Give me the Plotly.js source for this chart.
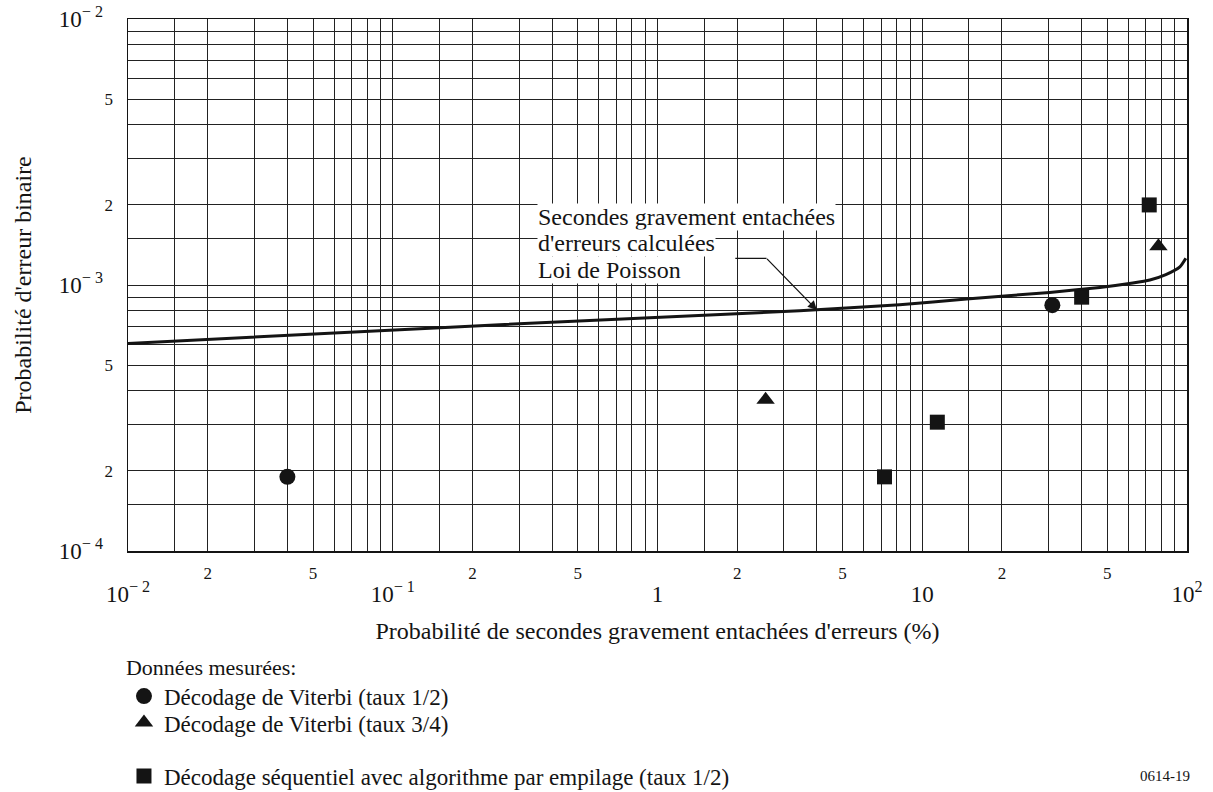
<!DOCTYPE html>
<html>
<head>
<meta charset="utf-8">
<script src="https://cdn.plot.ly/plotly-3.0.1.min.js"></script>
<style>
  html, body { margin: 0; padding: 0; background: #fff; }
  #chart { width: 1213px; height: 792px; }
</style>
</head>
<body>
<div id="chart"></div>
<script>
// Calculated curve: severely errored seconds vs. bit error probability (Poisson law)
const poissonX = [0.01, 0.1063, 0.2535, 3.44, 8.22, 14.7, 30.3, 46.9, 62.4, 72.4, 83.2, 94, 99];
const poissonY = [6.03e-4, 6.79e-4, 7.09e-4, 8.0e-4, 8.43e-4, 8.86e-4, 9.38e-4, 9.79e-4, 1.017e-3, 1.044e-3, 1.094e-3, 1.17e-3, 1.26e-3];

// Measured data
const viterbiHalfX = [0.04, 31];
const viterbiHalfY = [1.9e-4, 8.4e-4];
const viterbiThreeQuarterX = [2.56, 78];
const viterbiThreeQuarterY = [3.7e-4, 1.4e-3];
const sequentialX = [7.2, 11.4, 40, 72];
const sequentialY = [1.9e-4, 3.05e-4, 9.0e-4, 2.0e-3];

// Series names
const seriesNames = [
  'Décodage de Viterbi (taux 1/2)',
  'Décodage de Viterbi (taux 3/4)',
  'Décodage séquentiel avec algorithme par empilage (taux 1/2)'
];

// Axis decades, grid multipliers and labels
const xDecades = [-2, -1, 0, 1];
const yDecades = [-4, -3];
const gridMultipliers = [1, 1.5, 2, 3, 4, 5, 6, 7, 8, 9];
const xDecadeLabels = ['10<sup>− 2</sup>', '10<sup>− 1</sup>', '1', '10', '10<sup>2</sup>'];
const yDecadeLabels = ['10<sup>− 4</sup>', '10<sup>− 3</sup>', '10<sup>− 2</sup>'];

const FONT = '"Times New Roman", "Liberation Serif", Times, serif';
const INK = '#141414';

function gridValues(decades) {
  const vals = [];
  decades.forEach(d => gridMultipliers.forEach(m => vals.push(m * Math.pow(10, d))));
  vals.push(Math.pow(10, decades[decades.length - 1] + 1));
  return vals;
}
function gridLabels(decades) {
  const txt = [];
  decades.forEach(() => gridMultipliers.forEach(m => txt.push((m === 2 || m === 5) ? String(m) : '')));
  txt.push('');
  return txt;
}
function decadeValues(decades) {
  return decades.map(d => Math.pow(10, d)).concat([Math.pow(10, decades[decades.length - 1] + 1)]);
}

const traces = [
  {
    x: poissonX, y: poissonY, xaxis: 'x2', yaxis: 'y2',
    mode: 'lines', line: {color: INK, width: 3, shape: 'spline', smoothing: 0.6},
    showlegend: false, hoverinfo: 'skip'
  },
  {
    x: viterbiHalfX, y: viterbiHalfY, name: seriesNames[0], legend: 'legend',
    mode: 'markers', marker: {symbol: 'circle', size: 16, color: INK}
  },
  {
    x: viterbiThreeQuarterX, y: viterbiThreeQuarterY, name: seriesNames[1], legend: 'legend2',
    mode: 'markers', marker: {symbol: 'triangle-up', size: 16, color: INK}
  },
  {
    x: sequentialX, y: sequentialY, name: seriesNames[2], legend: 'legend3',
    mode: 'markers', marker: {symbol: 'square', size: 15, color: INK}
  }
];

const gridColor = '#222';
const minorFont = {family: FONT, size: 17, color: INK};
const decadeFont = {family: FONT, size: 23, color: INK};
const textFont = {family: FONT, size: 24, color: INK};
const legendFont = {family: FONT, size: 23, color: INK};

function legendBox(y, anchor, title) {
  const lg = {
    x: -0.0038, xanchor: 'left', y: y, yanchor: anchor,
    bgcolor: 'rgba(0,0,0,0)', borderwidth: 0, font: legendFont
  };
  if (title) lg.title = {text: title, side: 'top', font: {family: FONT, size: 22, color: INK}};
  return lg;
}

const layout = {
  width: 1213, height: 792,
  margin: {l: 128, r: 26, t: 19, b: 241, autoexpand: false},
  paper_bgcolor: '#fff', plot_bgcolor: '#fff',
  font: {family: FONT, color: INK, size: 22},
  xaxis: {
    type: 'log', range: [-2, 2],
    tickmode: 'array', tickvals: gridValues(xDecades), ticktext: gridLabels(xDecades),
    ticks: '', ticklabelstandoff: 6, tickfont: minorFont,
    showgrid: true, gridcolor: gridColor, gridwidth: 1,
    showline: true, linecolor: INK, linewidth: 1.5, mirror: true,
    zeroline: false,
    title: {text: "Probabilité de secondes gravement entachées d'erreurs (%)", font: textFont, standoff: 40}
  },
  xaxis2: {
    type: 'log', range: [-2, 2], overlaying: 'x', anchor: 'y2', side: 'bottom',
    tickmode: 'array', tickvals: decadeValues(xDecades), ticktext: xDecadeLabels,
    ticks: '', ticklabelstandoff: 27, tickfont: decadeFont,
    showgrid: false, showline: false, zeroline: false
  },
  yaxis: {
    type: 'log', range: [-4, -2],
    tickmode: 'array', tickvals: gridValues(yDecades), ticktext: gridLabels(yDecades),
    ticks: '', ticklabelstandoff: 10, tickfont: minorFont,
    showgrid: true, gridcolor: gridColor, gridwidth: 1,
    showline: true, linecolor: INK, linewidth: 1.5, mirror: true,
    zeroline: false,
    title: {text: "Probabilité d'erreur binaire", font: textFont, standoff: 66}
  },
  yaxis2: {
    type: 'log', range: [-4, -2], overlaying: 'y', anchor: 'x2', side: 'left',
    tickmode: 'array', tickvals: decadeValues(yDecades), ticktext: yDecadeLabels,
    ticks: '', ticklabelstandoff: 24, tickfont: decadeFont,
    showgrid: false, showline: false, zeroline: false
  },
  showlegend: true,
  legend: legendBox(-0.1786, 'top', 'Données mesurées:'),
  legend2: legendBox(-0.3225, 'middle'),
  legend3: legendBox(-0.4229, 'middle'),
  annotations: [
    {xref: 'paper', yref: 'paper', x: 0.3862, y: 0.6278, xanchor: 'left', yanchor: 'middle',
     text: 'Secondes gravement entachées', showarrow: false, bgcolor: '#fff', borderpad: 0, font: textFont},
    {xref: 'paper', yref: 'paper', x: 0.3862, y: 0.5789, xanchor: 'left', yanchor: 'middle',
     text: "d'erreurs calculées", showarrow: false, bgcolor: '#fff', borderpad: 0, font: textFont},
    {xref: 'paper', yref: 'paper', x: 0.3862, y: 0.5282, xanchor: 'left', yanchor: 'middle',
     text: 'Loi de Poisson', showarrow: false, bgcolor: '#fff', borderpad: 0, font: textFont},
    // leader: horizontal stub, then arrow down onto the curve
    {xref: 'x', yref: 'y', x: 0.4118, y: -2.9, axref: 'x', ayref: 'y', ax: 0.292, ay: -2.9,
     text: ' ', showarrow: true, arrowhead: 0, arrowwidth: 1.3, arrowcolor: INK,
     font: {size: 1}, borderpad: 0},
    {xref: 'x', yref: 'y', x: Math.log10(4), y: Math.log10(8.05e-4), axref: 'x', ayref: 'y', ax: 0.4118, ay: -2.9,
     text: ' ', showarrow: true, arrowhead: 2, arrowsize: 1.4, arrowwidth: 1.3, arrowcolor: INK,
     font: {size: 1}, borderpad: 0},
    {xref: 'paper', yref: 'paper', x: 0.979, y: -0.423, xanchor: 'center', yanchor: 'middle',
     text: '0614-19', showarrow: false, font: {family: FONT, size: 15, color: INK}}
  ]
};

Plotly.newPlot('chart', traces, layout, {displayModeBar: false, staticPlot: true});
</script>
</body>
</html>
